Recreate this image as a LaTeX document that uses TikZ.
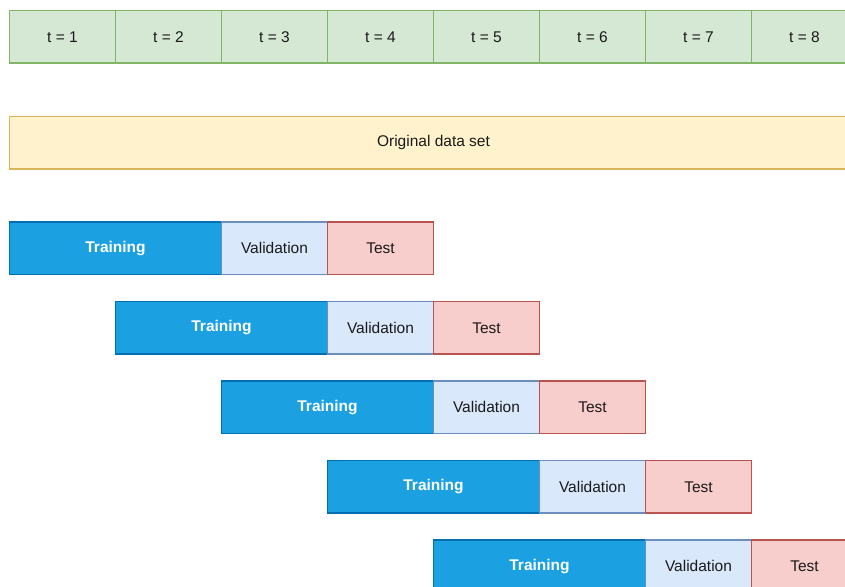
\documentclass[tikz,border=0pt]{standalone}
\usepackage{fontspec}
\setmainfont{Liberation Sans}
\definecolor{gfill}{HTML}{D5E8D4}\definecolor{gline}{HTML}{82B366}
\definecolor{yfill}{HTML}{FFF2CC}\definecolor{yline}{HTML}{D6B656}
\definecolor{tfill}{HTML}{1BA1E2}\definecolor{tline}{HTML}{006EAF}
\definecolor{vfill}{HTML}{DAE8FC}\definecolor{vline}{HTML}{6C8EBF}
\definecolor{sfill}{HTML}{F8CECC}\definecolor{sline}{HTML}{B85450}
\definecolor{txt}{HTML}{1A1A1A}
\begin{document}
\begin{tikzpicture}[x=1pt,y=-1pt,
  base/.style={line width=1.2pt,minimum height=52.5pt,inner sep=0pt,outer sep=0pt,anchor=north west,font=\fontsize{15.5}{18}\selectfont,text=txt},
  cell/.style={base,draw=gline,fill=gfill,minimum width=106pt},
  orig/.style={base,draw=yline,fill=yfill,minimum width=848pt},
  train/.style={base,draw=tline,fill=tfill,minimum width=212pt,font=\fontsize{15.5}{18}\selectfont\bfseries,text=white},
  valid/.style={base,draw=vline,fill=vfill,minimum width=106pt},
  testbox/.style={base,draw=sline,fill=sfill,minimum width=106pt}]
\useasboundingbox (0,0) rectangle (845,586);
\clip (0,0) rectangle (845,586);
\fill[white] (0,0) rectangle (845,586);
\foreach \i in {1,...,8}{
  \node[cell] (t\i) at ({9.5+106*(\i-1)},10.5) {t = \i};
}
\node[orig] (orig) at (9.5,116.5) {Original data set};
\foreach \k in {0,...,4}{
  \node[train] (tr\k) at ({9.5+106*\k},{222+79.5*\k}) {Training};
  \node[valid] (va\k) at (tr\k.north east) {Validation};
  \node[testbox] (te\k) at (va\k.north east) {Test};
}
\end{tikzpicture}
\end{document}
